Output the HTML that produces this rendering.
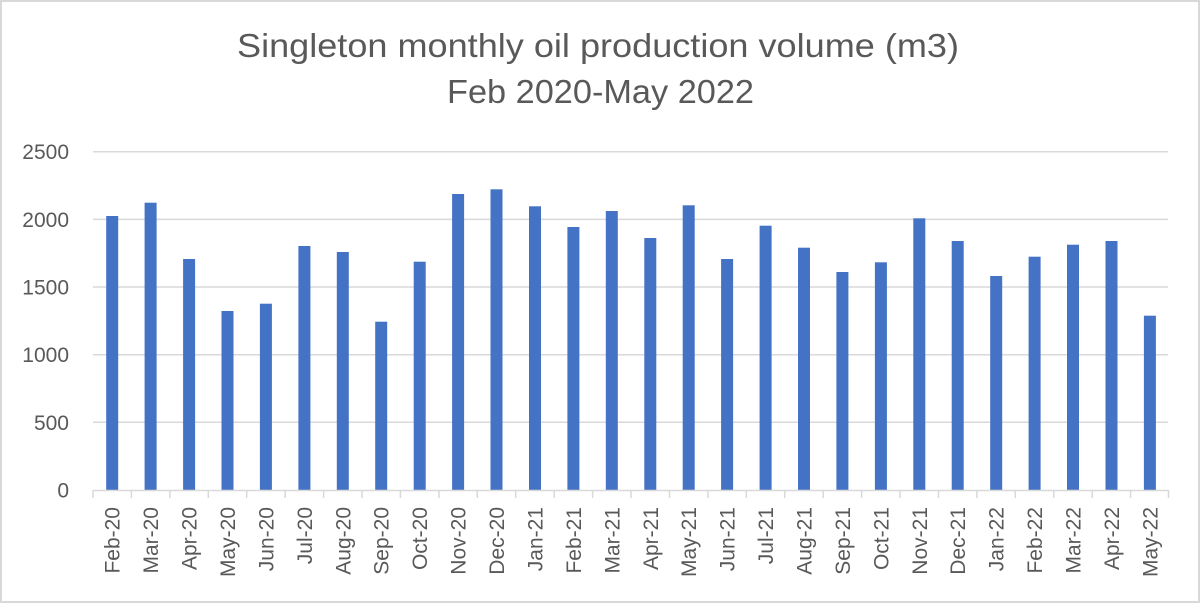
<!DOCTYPE html>
<html>
<head>
<meta charset="utf-8">
<style>
  html, body { margin: 0; padding: 0; background: #ffffff; }
  svg { display: block; }
  text { font-family: "Liberation Sans", Arial, sans-serif; fill: #595959; }
</style>
</head>
<body>
<svg width="1200" height="604" viewBox="0 0 1200 604" xmlns="http://www.w3.org/2000/svg">
  <rect x="0" y="0" width="1200" height="604" fill="#ffffff"/>
  <rect x="1" y="1" width="1198" height="601" fill="none" stroke="#d9d9d9" stroke-width="2"/>

  <!-- Title -->
  <text x="598" y="57" font-size="33" text-anchor="middle" textLength="722" lengthAdjust="spacingAndGlyphs">Singleton monthly oil production volume (m3)</text>
  <text x="600.5" y="103" font-size="33" text-anchor="middle" textLength="307" lengthAdjust="spacingAndGlyphs">Feb 2020-May 2022</text>

  <!-- Gridlines -->
  <g stroke="#d9d9d9" stroke-width="1.5">
    <line x1="93" y1="151.7" x2="1168" y2="151.7"/>
    <line x1="93" y1="219.4" x2="1168" y2="219.4"/>
    <line x1="93" y1="287" x2="1168" y2="287"/>
    <line x1="93" y1="354.7" x2="1168" y2="354.7"/>
    <line x1="93" y1="422.3" x2="1168" y2="422.3"/>
  </g>

  <!-- Y labels -->
  <g font-size="21" text-anchor="end">
    <text x="69" y="159.2">2500</text>
    <text x="69" y="226.9">2000</text>
    <text x="69" y="294.5">1500</text>
    <text x="69" y="362.2">1000</text>
    <text x="69" y="429.8">500</text>
    <text x="69" y="497.5">0</text>
  </g>

  <!-- Bars -->
  <g fill="#4472c4">
    <rect x="106.2" y="216.0" width="12" height="274.0"/>
    <rect x="144.6" y="202.7" width="12" height="287.3"/>
    <rect x="183.1" y="259.0" width="12" height="231.0"/>
    <rect x="221.5" y="311.0" width="12" height="179.0"/>
    <rect x="259.9" y="303.7" width="12" height="186.3"/>
    <rect x="298.4" y="246.0" width="12" height="244.0"/>
    <rect x="336.8" y="252.0" width="12" height="238.0"/>
    <rect x="375.2" y="321.7" width="12" height="168.3"/>
    <rect x="413.7" y="261.7" width="12" height="228.3"/>
    <rect x="452.1" y="194.0" width="12" height="296.0"/>
    <rect x="490.5" y="189.3" width="12" height="300.7"/>
    <rect x="529.0" y="206.3" width="12" height="283.7"/>
    <rect x="567.4" y="227.0" width="12" height="263.0"/>
    <rect x="605.8" y="211.0" width="12" height="279.0"/>
    <rect x="644.3" y="238.0" width="12" height="252.0"/>
    <rect x="682.7" y="205.3" width="12" height="284.7"/>
    <rect x="721.1" y="259.0" width="12" height="231.0"/>
    <rect x="759.6" y="225.7" width="12" height="264.3"/>
    <rect x="798.0" y="247.7" width="12" height="242.3"/>
    <rect x="836.4" y="272.0" width="12" height="218.0"/>
    <rect x="874.9" y="262.3" width="12" height="227.7"/>
    <rect x="913.3" y="218.3" width="12" height="271.7"/>
    <rect x="951.7" y="241.0" width="12" height="249.0"/>
    <rect x="990.2" y="276.0" width="12" height="214.0"/>
    <rect x="1028.6" y="256.7" width="12" height="233.3"/>
    <rect x="1067.0" y="244.7" width="12" height="245.3"/>
    <rect x="1105.5" y="241.0" width="12" height="249.0"/>
    <rect x="1143.9" y="315.7" width="12" height="174.3"/>
  </g>

  <!-- X axis line and ticks -->
  <g stroke="#d9d9d9" stroke-width="1.5">
    <line x1="93" y1="490.5" x2="1169" y2="490.5"/>
    <line x1="93" y1="490" x2="93" y2="498"/>
    <line x1="131.4" y1="490" x2="131.4" y2="498"/>
    <line x1="169.9" y1="490" x2="169.9" y2="498"/>
    <line x1="208.3" y1="490" x2="208.3" y2="498"/>
    <line x1="246.7" y1="490" x2="246.7" y2="498"/>
    <line x1="285.2" y1="490" x2="285.2" y2="498"/>
    <line x1="323.6" y1="490" x2="323.6" y2="498"/>
    <line x1="362.0" y1="490" x2="362.0" y2="498"/>
    <line x1="400.4" y1="490" x2="400.4" y2="498"/>
    <line x1="438.9" y1="490" x2="438.9" y2="498"/>
    <line x1="477.3" y1="490" x2="477.3" y2="498"/>
    <line x1="515.7" y1="490" x2="515.7" y2="498"/>
    <line x1="554.2" y1="490" x2="554.2" y2="498"/>
    <line x1="592.6" y1="490" x2="592.6" y2="498"/>
    <line x1="631.0" y1="490" x2="631.0" y2="498"/>
    <line x1="669.5" y1="490" x2="669.5" y2="498"/>
    <line x1="707.9" y1="490" x2="707.9" y2="498"/>
    <line x1="746.3" y1="490" x2="746.3" y2="498"/>
    <line x1="784.7" y1="490" x2="784.7" y2="498"/>
    <line x1="823.2" y1="490" x2="823.2" y2="498"/>
    <line x1="861.6" y1="490" x2="861.6" y2="498"/>
    <line x1="900.0" y1="490" x2="900.0" y2="498"/>
    <line x1="938.5" y1="490" x2="938.5" y2="498"/>
    <line x1="976.9" y1="490" x2="976.9" y2="498"/>
    <line x1="1015.3" y1="490" x2="1015.3" y2="498"/>
    <line x1="1053.8" y1="490" x2="1053.8" y2="498"/>
    <line x1="1092.2" y1="490" x2="1092.2" y2="498"/>
    <line x1="1130.6" y1="490" x2="1130.6" y2="498"/>
    <line x1="1168.5" y1="490" x2="1168.5" y2="498"/>
  </g>

  <!-- X labels -->
  <g font-size="21" text-anchor="end">
    <text transform="translate(119.7,507) rotate(-90)">Feb-20</text>
    <text transform="translate(158.1,507) rotate(-90)">Mar-20</text>
    <text transform="translate(196.6,507) rotate(-90)">Apr-20</text>
    <text transform="translate(235.0,507) rotate(-90)">May-20</text>
    <text transform="translate(273.4,507) rotate(-90)">Jun-20</text>
    <text transform="translate(311.9,507) rotate(-90)">Jul-20</text>
    <text transform="translate(350.3,507) rotate(-90)">Aug-20</text>
    <text transform="translate(388.7,507) rotate(-90)">Sep-20</text>
    <text transform="translate(427.2,507) rotate(-90)">Oct-20</text>
    <text transform="translate(465.6,507) rotate(-90)">Nov-20</text>
    <text transform="translate(504.0,507) rotate(-90)">Dec-20</text>
    <text transform="translate(542.5,507) rotate(-90)">Jan-21</text>
    <text transform="translate(580.9,507) rotate(-90)">Feb-21</text>
    <text transform="translate(619.3,507) rotate(-90)">Mar-21</text>
    <text transform="translate(657.8,507) rotate(-90)">Apr-21</text>
    <text transform="translate(696.2,507) rotate(-90)">May-21</text>
    <text transform="translate(734.6,507) rotate(-90)">Jun-21</text>
    <text transform="translate(773.1,507) rotate(-90)">Jul-21</text>
    <text transform="translate(811.5,507) rotate(-90)">Aug-21</text>
    <text transform="translate(849.9,507) rotate(-90)">Sep-21</text>
    <text transform="translate(888.4,507) rotate(-90)">Oct-21</text>
    <text transform="translate(926.8,507) rotate(-90)">Nov-21</text>
    <text transform="translate(965.2,507) rotate(-90)">Dec-21</text>
    <text transform="translate(1003.7,507) rotate(-90)">Jan-22</text>
    <text transform="translate(1042.1,507) rotate(-90)">Feb-22</text>
    <text transform="translate(1080.5,507) rotate(-90)">Mar-22</text>
    <text transform="translate(1119.0,507) rotate(-90)">Apr-22</text>
    <text transform="translate(1157.4,507) rotate(-90)">May-22</text>
  </g>
</svg>
</body>
</html>
